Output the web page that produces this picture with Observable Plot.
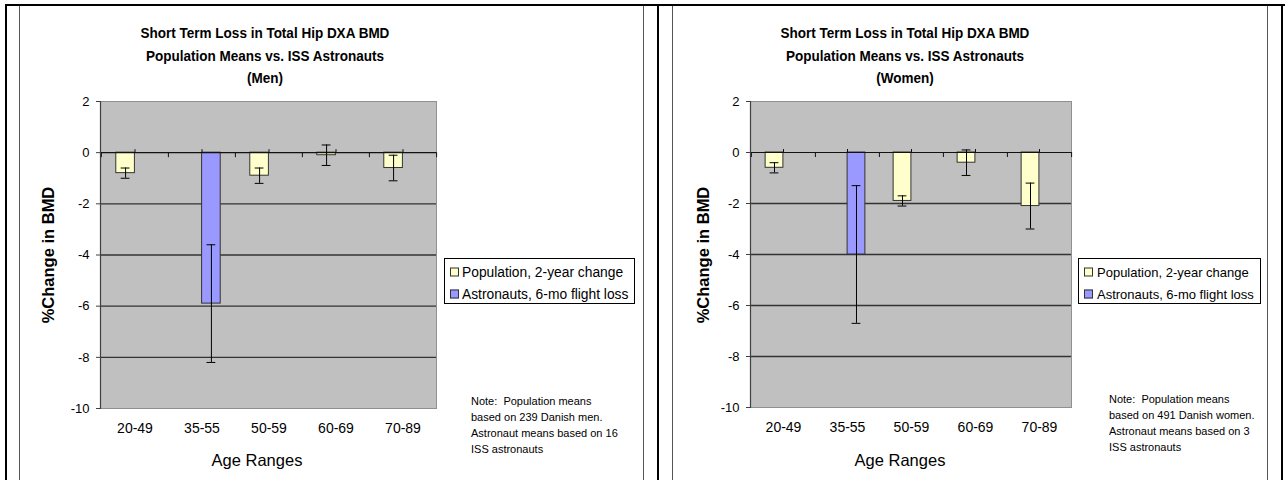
<!DOCTYPE html>
<html><head><meta charset="utf-8">
<script src="https://cdn.jsdelivr.net/npm/d3@7"></script>
<script src="https://cdn.jsdelivr.net/npm/@observablehq/plot@0.6"></script>
<style>
body{margin:0;background:#fff;width:1285px;height:480px;overflow:hidden;position:relative;font-family:"Liberation Sans",Arial,sans-serif;color:#000}
.abs{position:absolute}
.title{font-weight:bold;font-size:15px;text-align:center;line-height:22.5px;white-space:nowrap;transform:translateX(-50%) scaleX(0.9)}
.ytitle{font-weight:bold;font-size:16.5px;white-space:nowrap;transform:translate(-50%,-50%) rotate(-90deg)}
.xtitle{font-size:16.5px;white-space:nowrap;transform:translate(-50%,-50%)}
.legend{background:#fff;border:1px solid #000;box-sizing:border-box}
.item{position:absolute;white-space:nowrap;transform:translateY(-50%)}
.sw{position:absolute;width:7px;height:7px;border:1px solid #333;transform:translateY(-50%)}
.note{font-size:11px;line-height:16px;white-space:pre}
.bk{background:#000}
.card{border-left:1px solid #555;border-right:1px solid #555;box-sizing:border-box}
</style></head><body>
<script>
const ageRanges = ["20-49", "35-55", "50-59", "60-69", "70-89"];
const yTicks = [2, 0, -2, -4, -6, -8, -10];
const seriesNames = ["Population, 2-year change", "Astronauts, 6-mo flight loss"];
const seriesColors = ["#FFFFCC", "#9999FF"];
const titleLines = ["Short Term Loss in Total Hip DXA BMD", "Population Means vs. ISS Astronauts"];
const yTitle = "%Change in BMD";
const xTitle = "Age Ranges";

const menPopulation = [-0.8, null, -0.9, -0.1, -0.6];
const menPopulationErr = [0.2, null, 0.3, 0.4, 0.5];
const menAstronauts = [null, -5.9, null, null, null];
const menAstronautsErr = [null, 2.3, null, null, null];
const menNote = ["Note:  Population means", "based on 239 Danish men.", "Astronaut means based on 16", "ISS astronauts"];

const womenPopulation = [-0.6, null, -1.9, -0.4, -2.1];
const womenPopulationErr = [0.2, null, 0.2, 0.5, 0.9];
const womenAstronauts = [null, -4.0, null, null, null];
const womenAstronautsErr = [null, 2.7, null, null, null];
const womenNote = ["Note:  Population means", "based on 491 Danish women.", "Astronaut means based on 3", "ISS astronauts"];

function el(cls, style, text) {
  const d = document.createElement("div");
  d.className = "abs " + cls;
  Object.assign(d.style, style);
  if (text != null) d.textContent = text;
  document.body.appendChild(d);
  return d;
}

// table frame
el("bk", {left: "5px", top: "4px", width: "1280px", height: "2px"});
el("bk", {left: "5px", top: "4px", width: "2px", height: "476px"});
el("bk", {left: "657px", top: "4px", width: "2px", height: "476px"});
el("bk", {left: "1281px", top: "4px", width: "2px", height: "476px"});
el("card", {left: "19px", top: "6px", width: "625px", height: "474px"});
el("card", {left: "672px", top: "6px", width: "596px", height: "474px"});

function chart(cfg) {
  const {pop, popErr, astro, astroErr, sub, note, L} = cfg;
  const svgLeft = L.svgLeft, svgTop = 90;
  const marginLeft = L.plotLeft - svgLeft, marginTop = L.plotTop - svgTop;
  const marginRight = 4, marginBottom = 40;
  const width = L.plotRight + marginRight - svgLeft;
  const height = L.plotBottom + marginBottom - svgTop;
  const step = (L.plotRight - L.plotLeft) / ageRanges.length;
  const barW = step * 0.28;
  const cap = 4.5;
  const rows = ageRanges.map((age, i) => ({age, pop: pop[i], popErr: popErr[i], astro: astro[i], astroErr: astroErr[i]}));
  const popRows = rows.filter(d => d.pop != null);
  const astroRows = rows.filter(d => d.astro != null);
  const plot = Plot.plot({
    width, height, marginLeft, marginRight, marginTop, marginBottom,
    style: {fontFamily: "'Liberation Sans', Arial, sans-serif", fontSize: "13px", color: "#000", background: "transparent", overflow: "visible"},
    x: {type: "band", domain: ageRanges, padding: 0},
    y: {domain: [-10, 2]},
    marks: [
      Plot.frame({fill: "#C0C0C0", stroke: "#909090"}),
      Plot.ruleY([-8, -6, -4, -2], {stroke: "#333", strokeWidth: 1.3}),
      Plot.barY(popRows, {x: "age", y: "pop", fill: seriesColors[0], stroke: "#333", strokeWidth: 1, insetLeft: step / 2 - barW, insetRight: step / 2}),
      Plot.barY(astroRows, {x: "age", y: "astro", fill: seriesColors[1], stroke: "#333", strokeWidth: 1, insetLeft: step / 2, insetRight: step / 2 - barW}),
      Plot.ruleY([0], {stroke: "#111", strokeWidth: 1.2}),
      Plot.ruleX(ageRanges, {x: d => d, y1: 0, y2: 0, dx: -step / 2, insetTop: 5, stroke: "#111"}),
      Plot.ruleX(ageRanges.slice(-1), {x: d => d, y1: 0, y2: 0, dx: step / 2, insetTop: 5, stroke: "#111"}),
      Plot.ruleX(ageRanges, {x: d => d, y1: 0, y2: 0, insetBottom: 3, stroke: "#111"}),
      Plot.ruleX(popRows, {x: "age", y1: d => d.pop - d.popErr, y2: d => d.pop + d.popErr, dx: -barW / 2, stroke: "#000"}),
      Plot.tickY(popRows, {x: "age", y: d => d.pop - d.popErr, insetLeft: step / 2 - barW / 2 - cap, insetRight: step / 2 + barW / 2 - cap, stroke: "#000"}),
      Plot.tickY(popRows, {x: "age", y: d => d.pop + d.popErr, insetLeft: step / 2 - barW / 2 - cap, insetRight: step / 2 + barW / 2 - cap, stroke: "#000"}),
      Plot.ruleX(astroRows, {x: "age", y1: d => d.astro - d.astroErr, y2: d => d.astro + d.astroErr, dx: barW / 2, stroke: "#000"}),
      Plot.tickY(astroRows, {x: "age", y: d => d.astro - d.astroErr, insetLeft: step / 2 + barW / 2 - cap, insetRight: step / 2 - barW / 2 - cap, stroke: "#000"}),
      Plot.tickY(astroRows, {x: "age", y: d => d.astro + d.astroErr, insetLeft: step / 2 + barW / 2 - cap, insetRight: step / 2 - barW / 2 - cap, stroke: "#000"}),
      Plot.frame({anchor: "left", stroke: "#404040", strokeWidth: 1.2}),
      Plot.axisY({ticks: yTicks, tickSize: 4, tickPadding: 7, label: null, tickFormat: d => String(d), stroke: "#404040", fontSize: 13}),
      Plot.axisX({tickSize: 0, tickPadding: 15, label: null, fontSize: 14})
    ]
  });
  plot.style.position = "absolute";
  plot.style.left = svgLeft + "px";
  plot.style.top = svgTop + "px";
  document.body.appendChild(plot);

  const t = el("title", {left: L.titleX + "px", top: "22px"});
  [...titleLines, sub].forEach((line, i) => {
    if (i) t.appendChild(document.createElement("br"));
    t.appendChild(document.createTextNode(line));
  });
  el("ytitle", {left: L.yTitleX + "px", top: "255px"}, yTitle);
  el("xtitle", {left: L.xTitleX + "px", top: "460px"}, xTitle);
  const lg = el("legend", {left: L.legLeft + "px", top: "258px", width: L.legW + "px", height: "46px", fontSize: L.legFont + "px"});
  seriesNames.forEach((name, i) => {
    const cy = 13 + i * 22;
    const sw = document.createElement("div");
    sw.className = "sw";
    Object.assign(sw.style, {left: L.swX + "px", top: cy + "px", background: seriesColors[i]});
    lg.appendChild(sw);
    const tx = document.createElement("div");
    tx.className = "item";
    Object.assign(tx.style, {left: L.txX + "px", top: cy + "px"});
    tx.textContent = name;
    lg.appendChild(tx);
  });
  el("note", {left: L.noteX + "px", top: L.noteY + "px"}, note.join("\n"));
}

chart({pop: menPopulation, popErr: menPopulationErr, astro: menAstronauts, astroErr: menAstronautsErr, sub: "(Men)", note: menNote,
  L: {svgLeft: 20, plotLeft: 100, plotRight: 436, plotTop: 101, plotBottom: 408, titleX: 265, yTitleX: 48, xTitleX: 257,
      legLeft: 444, legW: 191, legFont: 13.8, swX: 5, txX: 17, noteX: 471, noteY: 393}});
chart({pop: womenPopulation, popErr: womenPopulationErr, astro: womenAstronauts, astroErr: womenAstronautsErr, sub: "(Women)", note: womenNote,
  L: {svgLeft: 673, plotLeft: 750, plotRight: 1071, plotTop: 101, plotBottom: 407, titleX: 905, yTitleX: 703, xTitleX: 900,
      legLeft: 1078, legW: 183, legFont: 13, swX: 5, txX: 18, noteX: 1109, noteY: 391}});
</script>
</body></html>
